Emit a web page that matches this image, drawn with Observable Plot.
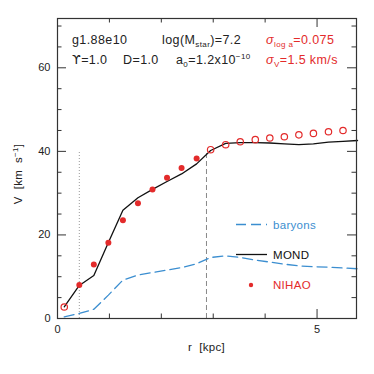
<!DOCTYPE html>
<html>
<head>
<meta charset="utf-8">
<script src="https://cdn.jsdelivr.net/npm/d3@7"></script>
<script src="https://cdn.jsdelivr.net/npm/@observablehq/plot@0.6"></script>
<style>
  html, body { margin: 0; padding: 0; background: #fff; }
  #chart { width: 374px; height: 374px; }
  svg { font-family: "Liberation Sans", Arial, sans-serif; }
</style>
</head>
<body>
<div id="chart"></div>
<script>
// ---- data ----
const radius = [0.13, 0.42, 0.70, 0.98, 1.26, 1.55, 1.83, 2.11, 2.39, 2.68, 2.95, 3.24, 3.52, 3.81, 4.09, 4.37, 4.65, 4.93, 5.22, 5.50, 5.78];
const vMond =   [2.8, 7.9, 10.3, 18.2, 25.9, 28.9, 30.9, 32.8, 34.6, 37.0, 40.2, 41.9, 42.1, 42.1, 42.0, 41.8, 41.6, 41.8, 42.2, 42.4, 42.6];
const vBaryon = [0.4, 1.2, 2.2, 5.6, 9.2, 10.4, 11.0, 11.6, 12.2, 13.1, 14.6, 15.0, 14.6, 14.0, 13.5, 13.0, 12.6, 12.4, 12.3, 12.1, 11.9];

const nihaoInR = [0.42, 0.70, 0.98, 1.26, 1.55, 1.83, 2.11, 2.39, 2.68];
const nihaoInV = [8.0, 12.9, 18.1, 23.5, 27.6, 30.9, 33.7, 36.0, 38.3];
const nihaoOutR = [0.13, 2.95, 3.24, 3.52, 3.81, 4.09, 4.37, 4.65, 4.93, 5.22, 5.50];
const nihaoOutV = [2.75, 40.4, 41.6, 42.3, 42.8, 43.2, 43.5, 43.95, 44.3, 44.7, 45.0];

const markerR = [0.42, 2.87];
const markerTop = 39.8;

const xMajor = [0, 5];
const xMinor = [1, 2, 3, 4];
const yMajor = [0, 20, 40, 60];
const yMinor = [5, 10, 15, 25, 30, 35, 45, 50, 55, 65, 70];

const xDomain = [0, 5.76];
const yDomain = [0, 71.8];

const RED = "#e32b2b";
const BLUE = "#3b8ed0";

// ---- layout ----
const W = 374, H = 374;
const mL = 57, mR = 18, mT = 18, mB = 56;
const pw = W - mL - mR, ph = H - mT - mB;
const majLen = 9, minLen = 4.5;

const mond = radius.map((r, i) => ({r, v: vMond[i]}));
const bary = radius.map((r, i) => ({r, v: vBaryon[i]}));
const inPts = nihaoInR.map((r, i) => ({r, v: nihaoInV[i]}));
const outPts = nihaoOutR.map((r, i) => ({r, v: nihaoOutV[i]}));

const plot = Plot.plot({
  width: W, height: H,
  marginLeft: mL, marginRight: mR, marginTop: mT, marginBottom: mB,
  style: {fontFamily: "Liberation Sans, Arial, sans-serif", fontSize: "11px", color: "#222", background: "#fff"},
  x: {domain: xDomain},
  y: {domain: yDomain},
  marks: [
    Plot.ruleX([markerR[0]], {x: d => d, y1: 0, y2: markerTop, stroke: "#999", strokeWidth: 1, strokeDasharray: "1,2"}),
    Plot.ruleX([markerR[1]], {x: d => d, y1: 0, y2: markerTop, stroke: "#888", strokeWidth: 1, strokeDasharray: "5,3"}),
    Plot.line(bary, {x: "r", y: "v", stroke: BLUE, strokeWidth: 1.3, strokeDasharray: "10,5"}),
    Plot.line(mond, {x: "r", y: "v", stroke: "#111", strokeWidth: 1.3}),
    Plot.dot(inPts, {x: "r", y: "v", r: 3, fill: RED, stroke: "none"}),
    Plot.dot(outPts, {x: "r", y: "v", r: 3.2, fill: "none", stroke: RED, strokeWidth: 1.2}),
    Plot.tickX(xMajor, {x: d => d, insetTop: ph - majLen, stroke: "#333"}),
    Plot.tickX(xMinor, {x: d => d, insetTop: ph - minLen, stroke: "#333"}),
    Plot.tickX(xMajor, {x: d => d, insetBottom: ph - majLen, stroke: "#333"}),
    Plot.tickX(xMinor, {x: d => d, insetBottom: ph - minLen, stroke: "#333"}),
    Plot.tickY(yMajor, {y: d => d, insetRight: pw - majLen, stroke: "#333"}),
    Plot.tickY(yMinor, {y: d => d, insetRight: pw - minLen, stroke: "#333"}),
    Plot.tickY(yMajor, {y: d => d, insetLeft: pw - majLen, stroke: "#333"}),
    Plot.tickY(yMinor, {y: d => d, insetLeft: pw - minLen, stroke: "#333"}),
    Plot.axisX({ticks: xMajor, tickSize: 0, tickPadding: 7, label: null, fontSize: 11, tickFormat: d => String(d)}),
    Plot.axisY({ticks: yMajor, tickSize: 0, tickPadding: 7, label: null, fontSize: 11, tickFormat: d => String(d)}),
    Plot.frame({stroke: "#333", strokeWidth: 1.2})
  ]
});

document.getElementById("chart").appendChild(plot);

const svg = d3.select(plot);
const g = svg.append("g").attr("font-family", "Liberation Sans, Arial, sans-serif").attr("text-anchor", "start");

// axis labels
g.append("text").attr("x", mL + pw / 2).attr("y", 351).attr("text-anchor", "middle")
  .attr("font-size", 11.5).attr("fill", "#222").attr("letter-spacing", 0.3).text("r  [kpc]");
const yl = g.append("text").attr("transform", `translate(22,${mT + ph / 2 + 6}) rotate(-90)`)
  .attr("text-anchor", "middle").attr("font-size", 11.5).attr("fill", "#222").attr("letter-spacing", 0.3);
yl.append("tspan").text("V  [km  s");
yl.append("tspan").attr("dy", -4).attr("font-size", 8).text("−1");
yl.append("tspan").attr("dy", 4).text("]");

// annotation text (two rows)
function rich(x, y, parts, color) {
  const t = g.append("text").attr("x", x).attr("y", y).attr("font-size", 12.5)
    .attr("fill", color).attr("letter-spacing", 0.4);
  parts.forEach(p => {
    const s = t.append("tspan").text(p.t);
    if (p.sub) s.attr("font-size", 8).attr("dy", 3);
    if (p.sup) s.attr("font-size", 8).attr("dy", -5);
    if (p.back) s.attr("dy", p.back);
    if (p.it) s.attr("font-style", "italic");
    if (p.font) s.attr("font-family", p.font);
  });
}
const r1 = 43.5, r2 = 64;
rich(72, r1, [{t: "g1.88e10"}], "#222");
rich(162, r1, [{t: "log(M"}, {t: "star", sub: true}, {t: ")=7.2", back: -3}], "#222");
rich(266, r1, [{t: "σ", it: true}, {t: "log a", sub: true}, {t: "=0.075", back: -3}], RED);
rich(72, r2, [{t: "ϒ", font: "DejaVu Sans"}, {t: "=1.0"}], "#222");
rich(123, r2, [{t: "D=1.0"}], "#222");
rich(176, r2, [{t: "a"}, {t: "0", sub: true}, {t: "=1.2x10", back: -3}, {t: "−10", sup: true}], "#222");
rich(266, r2, [{t: "σ", it: true}, {t: "V", sub: true}, {t: "=1.5 km/s", back: -3}], RED);

// legend
const lx0 = 236, lx1 = 267, tx = 273;
g.append("line").attr("x1", lx0).attr("x2", lx1).attr("y1", 224.5).attr("y2", 224.5)
  .attr("stroke", BLUE).attr("stroke-width", 1.3).attr("stroke-dasharray", "10,5");
g.append("text").attr("x", tx).attr("y", 228.5).attr("font-size", 11.5).attr("fill", BLUE).attr("letter-spacing", 0.3).text("baryons");
g.append("line").attr("x1", lx0).attr("x2", lx1).attr("y1", 254.5).attr("y2", 254.5)
  .attr("stroke", "#111").attr("stroke-width", 1.3);
g.append("text").attr("x", tx).attr("y", 258.5).attr("font-size", 11.5).attr("fill", "#111").attr("letter-spacing", 0.3).text("MOND");
g.append("circle").attr("cx", 251).attr("cy", 285).attr("r", 2.2).attr("fill", RED);
g.append("text").attr("x", tx).attr("y", 289).attr("font-size", 11.5).attr("fill", RED).attr("letter-spacing", 0.3).text("NIHAO");
</script>
</body>
</html>
